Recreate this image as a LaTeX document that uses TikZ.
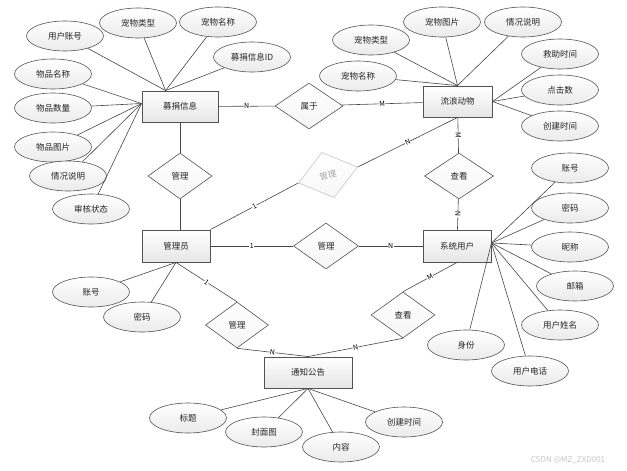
\documentclass[tikz,border=0pt]{standalone}
\usepackage{fontspec}
\setmainfont{Noto Sans CJK SC}
\usetikzlibrary{shapes.geometric,shadows}
\begin{document}
\begin{tikzpicture}[x=1pt,y=-1pt,
  txt/.style={font=\fontsize{8.5}{10}\selectfont, text=black!85},
  ent/.style={txt, draw=gray!65!black, line width=0.9pt, top color=white, bottom color=gray!20, minimum height=31pt, inner sep=0pt, drop shadow={opacity=0.18,shadow xshift=1pt,shadow yshift=-1pt}},
  att/.style={txt, ellipse, draw=gray!65!black, line width=0.6pt, top color=white, bottom color=gray!16, minimum width=77pt, minimum height=30pt, inner sep=0pt},
  rel/.style={txt, diamond, draw=gray!65!black, line width=0.6pt, top color=white, bottom color=gray!8, minimum width=66pt, minimum height=46pt, inner sep=0pt},
  ln/.style={draw=gray!55!black, line width=0.6pt},
  lab/.style={sloped, fill=white, inner sep=0.4pt, font=\fontsize{7}{7}\selectfont},
]
\useasboundingbox (0,0) rectangle (627,471);

% entities
\node[ent, minimum width=76pt] (don) at (180,106.5) {募捐信息};
\node[ent, minimum width=69pt] (dog) at (457.5,101.5) {流浪动物};
\node[ent, minimum width=68pt, minimum height=32pt] (sys) at (457,246) {系统用户};
\node[ent, minimum width=68pt, minimum height=32pt] (adm) at (176,246) {管理员};
\node[ent, minimum width=88pt] (ntc) at (308,372.5) {通知公告};

% relationships
\node[rel, minimum width=68pt] (belong) at (309,106) {属于};
\node[rel, minimum width=64pt] (mgr1) at (180,176) {管理};
\node[rel, minimum width=61pt, minimum height=47pt, rotate=15, draw=gray!45, top color=white, bottom color=gray!6, text=gray!70] (fad) at (328,175) {管理};
\node[rel, minimum width=69pt] (see1) at (459,176) {查看};
\node[rel, minimum width=65pt] (mgr2) at (326,246) {管理};
\node[rel, minimum width=64pt] (see2) at (403,315) {查看};
\node[rel, minimum width=63pt] (mgr3) at (237,325) {管理};

% attributes of 募捐信息
\node[att] (d1) at (65,36) {用户账号};
\node[att] (d2) at (138,23) {宠物类型};
\node[att] (d3) at (218,22) {宠物名称};
\node[att] (d4) at (252,57) {募捐信息ID};
\node[att] (d5) at (53,74) {物品名称};
\node[att] (d6) at (53,108) {物品数量};
\node[att] (d7) at (53,147) {物品图片};
\node[att] (d8) at (68,176) {情况说明};
\node[att] (d9) at (91,209) {审核状态};

% attributes of 流浪动物
\node[att] (g1) at (442,22) {宠物图片};
\node[att] (g2) at (523,22) {情况说明};
\node[att] (g3) at (371,40) {宠物类型};
\node[att] (g4) at (358,76) {宠物名称};
\node[att] (g5) at (560,54) {救助时间};
\node[att] (g6) at (560,90) {点击数};
\node[att] (g7) at (560,126) {创建时间};

% attributes of 系统用户
\node[att] (s1) at (570,168) {账号};
\node[att] (s2) at (570,208) {密码};
\node[att] (s3) at (570,247) {昵称};
\node[att] (s4) at (575,286) {邮箱};
\node[att] (s5) at (560,325) {用户姓名};
\node[att] (s6) at (530,371) {用户电话};
\node[att] (s7) at (466,345) {身份};

% attributes of 管理员
\node[att] (m1) at (91,292) {账号};
\node[att] (m2) at (142,317) {密码};

% attributes of 通知公告
\node[att] (n1) at (188,418) {标题};
\node[att] (n2) at (264,432) {封面图};
\node[att] (n3) at (341,447) {内容};
\node[att] (n4) at (404,422) {创建时间};

% convergence points
\coordinate (donT) at ([xshift=24pt]don.north west);
\coordinate (donL) at ([yshift=3pt]don.west);
\coordinate (sysR) at ([yshift=3pt]sys.east);

% attribute lines
\foreach \a in {d1,d2,d3,d4} \draw[ln] (donT) -- (\a);
\foreach \a in {d5,d6,d7,d8,d9} \draw[ln] (donL) -- (\a);
\foreach \a in {g1,g2,g3,g4} \draw[ln] (dog.north) -- (\a);
\foreach \a in {g5,g6,g7} \draw[ln] (dog.east) -- (\a);
\foreach \a in {s1,s2,s3,s4,s5,s6,s7} \draw[ln] (sysR) -- (\a);
\foreach \a in {m1,m2} \draw[ln] (adm.south) -- (\a);
\foreach \a in {n1,n2,n3,n4} \draw[ln] (ntc.south) -- (\a);

% relationship lines
\draw[ln] (don) -- node[lab]{N} (belong);
\draw[ln] (belong) -- node[lab]{M} (dog);
\draw[ln] (don.south -| mgr1) -- (mgr1);
\draw[ln] (mgr1) -- (mgr1.south |- adm.north);
\draw[ln] (adm.north east) -- node[lab]{1} (fad.west);
\draw[ln] (fad.east) -- node[lab]{N} (dog.south);
\draw[ln] (dog) -- node[lab]{M} (see1);
\draw[ln] (see1) -- node[lab]{N} (sys);
\draw[ln] (adm) -- node[lab]{1} (mgr2);
\draw[ln] (mgr2) -- node[lab]{N} (sys);
\draw[ln] (sys.south) -- node[lab]{M} (see2.north);
\draw[ln] (see2.south) -- node[lab]{N} (ntc.north);
\draw[ln] (adm.south) -- node[lab]{1} (mgr3.north);
\draw[ln] (mgr3.south) -- node[lab]{N} (ntc.north);

% watermark
\node[font=\fontsize{8}{8}\selectfont, text=gray!45] (wm) at (568,460) {CSDN @MZ\_ZXD001};
\end{tikzpicture}
\end{document}
